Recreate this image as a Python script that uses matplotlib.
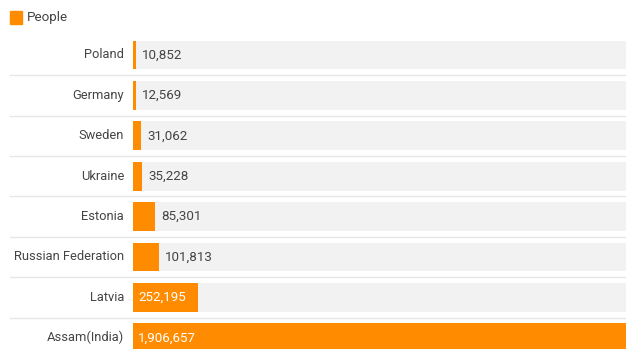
import matplotlib
matplotlib.use("Agg")
import matplotlib.pyplot as plt
from matplotlib.patches import Rectangle
from matplotlib.transforms import offset_copy

plt.rcParams['font.family'] = ['Roboto', 'DejaVu Sans']

countries = ["Poland", "Germany", "Sweden", "Ukraine", "Estonia",
             "Russian Federation", "Latvia", "Assam(India)"]
people = [10852, 12569, 31062, 35228, 85301, 101813, 252195, 1906657]
series_name = "People"

ORANGE = "#FF8C00"
TRACK = "#F2F2F2"
TEXT = "#444444"
RULE = "#E6E6E6"

W, H = 626, 349
fig = plt.figure(figsize=(W / 100, H / 100), dpi=100)

# Axes geometry in pixels
x0, x1 = 133, 626
row_top = 55          # centre of first row
step = 40.4           # row pitch
n = len(countries)
y_top = row_top - step / 2
y_bot = row_top + step * (n - 0.5)
ax = fig.add_axes([x0 / W, (H - y_bot) / H, (x1 - x0) / W, (y_bot - y_top) / H])

vmax = max(people)
pos = list(range(n))
bar_h = 0.71

ax.barh(pos, [vmax] * n, height=bar_h, color=TRACK, zorder=1)
ax.barh(pos, people, height=bar_h, color=ORANGE, zorder=2)

ax.set_xlim(0, vmax)
ax.set_ylim(n - 0.5, -0.5)
ax.axis("off")

# Row separators, extending into the label area
for i in range(n - 1):
    ax.plot([-(x0 - 10) / (x1 - x0), 1], [i + 0.5, i + 0.5],
            transform=ax.get_yaxis_transform(), color=RULE, lw=1.0,
            clip_on=False, zorder=0)

# Category labels
lab_tf = offset_copy(ax.transData, fig=fig, x=-9, y=0, units="dots")
for i, name in enumerate(countries):
    ax.text(0, i, name, transform=lab_tf, ha="right", va="center",
            fontsize=9.3, color=TEXT)

# Value labels: white inside wide bars, dark after narrow ones
for i, v in enumerate(people):
    txt = f"{v:,}"
    if v / vmax > 0.1:
        tf = offset_copy(ax.transData, fig=fig, x=5, y=0, units="dots")
        ax.text(0, i, txt, transform=tf, ha="left", va="center",
                fontsize=9.6, color="white", zorder=3)
    else:
        tf = offset_copy(ax.transData, fig=fig, x=6, y=0, units="dots")
        ax.text(v, i, txt, transform=tf, ha="left", va="center",
                fontsize=9.6, color=TEXT, zorder=3)

# Legend
fig.patches.append(Rectangle((10 / W, (H - 24) / H), 12 / W, 13 / H,
                             transform=fig.transFigure, color=ORANGE))
fig.text(27 / W, (H - 18) / H, series_name, ha="left", va="center",
         fontsize=9.6, color=TEXT)

fig.savefig("out.png", dpi=100)
